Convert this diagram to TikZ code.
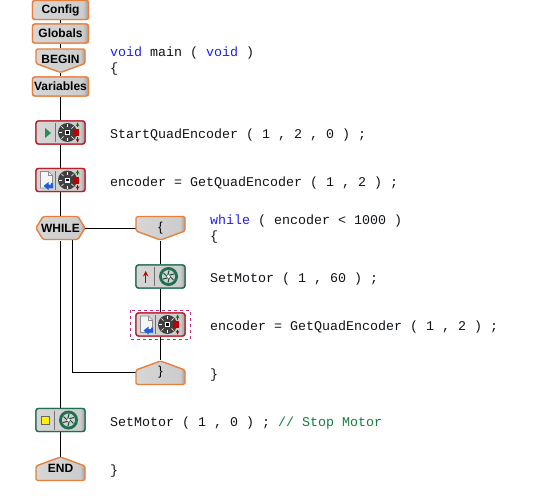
\documentclass[tikz,border=0pt]{standalone}
\usepackage{fontspec}
\setmainfont{Liberation Sans}
\setmonofont{Liberation Mono}
\usetikzlibrary{calc}
\definecolor{blockorange}{HTML}{E8803C}
\definecolor{blockred}{HTML}{B8202C}
\definecolor{blockgreen}{HTML}{1F6F50}
\definecolor{keyblue}{HTML}{2020F0}
\definecolor{codeink}{HTML}{101418}
\definecolor{commentgreen}{HTML}{108040}
\definecolor{wheelgray}{HTML}{404040}
\definecolor{playgreen}{HTML}{2E8B50}
\definecolor{arrowblue}{HTML}{2060E0}
\pgfdeclarehorizontalshading{blockgrad}{100bp}{color(0bp)=(black!16); color(25bp)=(black!16); color(70bp)=(black!20); color(75bp)=(black!38); color(100bp)=(black!38)}
\tikzset{
  x=1pt,y=-1pt,
  wire/.style={draw=black,line width=1pt},
  blockface/.style={shading=blockgrad},
  labelbox/.style={draw=blockorange,line width=1.4pt,rounded corners=2.5pt,blockface,minimum width=56pt,minimum height=19pt,inner sep=0pt,font=\bfseries\fontsize{12}{12}\selectfont},
  iconbox/.style={line width=1.4pt,rounded corners=2.5pt,blockface,minimum width=49pt,minimum height=23pt,inner sep=0pt},
  redbox/.style={iconbox,draw=blockred},
  greenbox/.style={iconbox,draw=blockgreen},
  anchorbox/.style={minimum width=49pt,minimum height=24pt,inner sep=0pt,font=\bfseries\fontsize{12}{12}\selectfont},
  bracebox/.style={anchorbox,font=\fontsize{13}{13}\selectfont},
  outl/.style={draw=blockorange,line width=1.4pt,line join=round,rounded corners=1.5pt,blockface},
  code/.style={anchor=west,inner sep=0pt,text=codeink,font=\ttfamily\fontsize{13.33}{14}\selectfont}
}
\newcommand{\penDown}[2]{\path[outl] (#1-24.5,#2-11.5) -- (#1+24.5,#2-11.5) -- (#1+24.5,#2+3) -- (#1,#2+12) -- (#1-24.5,#2+3) -- cycle;}
\newcommand{\penUp}[2]{\path[outl] (#1-24.5,#2+11.5) -- (#1+24.5,#2+11.5) -- (#1+24.5,#2-3) -- (#1,#2-12) -- (#1-24.5,#2-3) -- cycle;}
\newcommand{\encIcon}[2]{
  \fill[wheelgray] (#1+7,#2) circle (9.5);
  \foreach \a in {0,45,...,315}{\draw[white,line width=.7pt] ($(#1+7,#2)+(\a:5.5)$) -- ($(#1+7,#2)+(\a:8.5)$);}
  \fill[white] (#1+4.5,#2-2.5) rectangle (#1+9.5,#2+2.5);
  \fill[black] (#1+5.7,#2-1.3) rectangle (#1+8.3,#2+1.3);
  \fill[red!75!black] (#1+12.5,#2-3.5) rectangle (#1+18.5,#2+3.5);
  \draw[green!45!black,line width=.7pt,-{stealth}] (#1+17,#2-5) -- (#1+17,#2-10);
  \draw[red!60!black,line width=.7pt,-{stealth}] (#1+17,#2+5) -- (#1+17,#2+10);
  \draw[black!55,line width=.8pt] (#1-5,#2-9.5) -- (#1-5,#2+9.5);
}
\newcommand{\docIcon}[2]{
  \path[fill=black!4,draw=black!45,line width=.6pt] (#1-20,#2-8.5) -- (#1-12,#2-8.5) -- (#1-8,#2-4.5) -- (#1-8,#2+8) -- (#1-20,#2+8) -- cycle;
  \draw[black!45,line width=.6pt] (#1-12,#2-8.5) -- (#1-12,#2-4.5) -- (#1-8,#2-4.5);
  \fill[arrowblue] (#1-7.5,#2+3) -- (#1-7.5,#2+8) -- (#1-12,#2+8) -- (#1-12,#2+10) -- (#1-17,#2+6) -- (#1-12,#2+2) -- (#1-12,#2+4.5) -- (#1-9.5,#2+4.5) -- (#1-9.5,#2+3) -- cycle;
}
\newcommand{\motorWheel}[2]{
  \fill[blockgreen] (#1+8,#2) circle (9.5);
  \fill[black!18] (#1+8,#2) circle (6.5);
  \foreach \a in {0,60,...,300}{\draw[blockgreen!70!black,line width=1pt] ($(#1+8,#2)+(\a:1.5)$) -- ($(#1+8,#2)+(\a+35:6)$);}
  \fill[white] (#1+8,#2) circle (1.4);
  \draw[black!55,line width=.8pt] (#1-6,#2-9.5) -- (#1-6,#2+9.5);
}
\begin{document}
\begin{tikzpicture}
\useasboundingbox (0,0) rectangle (554,500);
\fill[white] (0,0) rectangle (554,500);

\node[labelbox] (config) at (60.5,10) {};
\node[labelbox] (globals) at (60.5,33.5) {};
\node[anchorbox] (begin) at (60.5,60.5) {};
\node[labelbox] (variables) at (60.5,86.5) {};
\node[redbox] (start) at (60.5,132.5) {};
\node[redbox] (getone) at (60.5,180) {};
\node[anchorbox] (while) at (60.5,228.5) {};
\node[anchorbox] (open) at (160.5,228.5) {};
\node[greenbox] (motorup) at (160.5,276.5) {};
\node[redbox] (gettwo) at (160.5,324.5) {};
\node[anchorbox] (close) at (160.5,372.5) {};
\node[greenbox] (motorstop) at (60.5,420) {};
\node[anchorbox] (endb) at (60.5,469) {};
\coordinate (whileleg) at (72.5,240);
\coordinate (closecorner) at (72.5,372.5);

\draw[wire] (config) -- (globals);
\draw[wire] (globals) -- (begin);
\draw[wire] (begin) -- (variables);
\draw[wire] (variables) -- (start);
\draw[wire] (start) -- (getone);
\draw[wire] (getone) -- (while);
\draw[wire] (while) -- (motorstop);
\draw[wire] (motorstop) -- (endb);
\draw[wire] (while) -- (open);
\draw[wire] (open) -- (motorup);
\draw[wire] (motorup) -- (gettwo);
\draw[wire] (gettwo) -- (close);
\draw[wire] (whileleg) -- (closecorner) -- (close);

\node[labelbox] at (config) {Config};
\node[labelbox] at (globals) {Globals};
\penDown{60.5}{60.5}
\node[anchorbox,yshift=1pt] at (begin) {BEGIN};
\node[labelbox] at (variables) {Variables};
\node[redbox] at (start) {};
\fill[playgreen] (45,128) -- (51,133) -- (45,138) -- cycle;
\encIcon{60.5}{132.5}
\node[redbox] at (getone) {};
\docIcon{60.5}{180}
\encIcon{60.5}{180}
\path[outl] (36,228) -- (43,216.5) -- (78,216.5) -- (85,228) -- (78,239.5) -- (43,239.5) -- cycle;
\node[anchorbox] at (while) {WHILE};
\penDown{160.5}{228}
\node[bracebox] at (open) {\{};
\node[greenbox] at (motorup) {};
\draw[red!70!black,line width=1.4pt,-{stealth}] (145.7,283) -- (145.7,271);
\motorWheel{160.5}{276.5}
\draw[magenta!80!black,line width=.8pt,dashed] (130,310) rectangle (190.5,339);
\node[redbox] at (gettwo) {};
\docIcon{160.5}{324.5}
\encIcon{160.5}{324.5}
\penUp{160.5}{373}
\node[bracebox] at (close) {\}};
\node[greenbox] at (motorstop) {};
\fill[yellow,draw=black!60,line width=.6pt] (41.5,416.5) rectangle (49,424);
\motorWheel{60.5}{420}
\penUp{60.5}{469}
\node[anchorbox,yshift=1pt] at (endb) {END};

\node[code] (c1) at (110,53) {\textcolor{keyblue}{void} main ( \textcolor{keyblue}{void} )};
\node[code] (c2) at (110,69) {\{};
\node[code] (c3) at (110,135) {StartQuadEncoder ( 1 , 2 , 0 ) ;};
\node[code] (c4) at (110,183) {encoder = GetQuadEncoder ( 1 , 2 ) ;};
\node[code] (c5) at (210,221) {\textcolor{keyblue}{while} ( encoder < 1000 )};
\node[code] (c6) at (210,237) {\{};
\node[code] (c7) at (210,279) {SetMotor ( 1 , 60 ) ;};
\node[code] (c8) at (210,327) {encoder = GetQuadEncoder ( 1 , 2 ) ;};
\node[code] (c9) at (210,375) {\}};
\node[code] (c10) at (110,423) {SetMotor ( 1 , 0 ) ; \textcolor{commentgreen}{// Stop Motor}};
\node[code] (c11) at (110,471) {\}};
\end{tikzpicture}
\end{document}
